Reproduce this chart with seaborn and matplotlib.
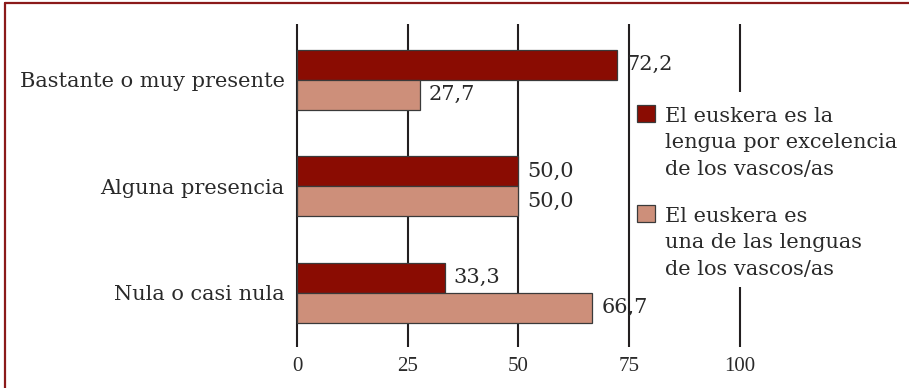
import matplotlib
matplotlib.use("Agg")
import matplotlib.pyplot as plt
from matplotlib.lines import Line2D
from matplotlib.patches import Rectangle
import seaborn as sns
import pandas as pd

categories = ["Bastante o muy presente", "Alguna presencia", "Nula o casi nula"]
series_names = [
    "El euskera es la\nlengua por excelencia\nde los vascos/as",
    "El euskera es\nuna de las lenguas\nde los vascos/as",
]
excelencia = [72.2, 50.0, 33.3]
una_de = [27.7, 50.0, 66.7]
x_ticks = [0, 25, 50, 75, 100]

dark_red = "#8a0c02"
salmon = "#cd8f7a"
palette = [dark_red, salmon]
grid_col = "#231f20"
text_col = "#2a2a2a"
edge_col = "#3a3a3a"

df = pd.DataFrame({
    "cat": categories * 2,
    "serie": [series_names[0]] * 3 + [series_names[1]] * 3,
    "valor": excelencia + una_de,
})

sns.set_theme(style="white")
plt.rcParams["font.family"] = ["DejaVu Serif"]

W, H = 909, 388
fig = plt.figure(figsize=(W / 100, H / 100), dpi=100)
ax = fig.add_axes([0.3238, 0.1057, 0.4932, 0.8325])

sns.barplot(data=df, y="cat", x="valor", hue="serie", order=categories,
            hue_order=series_names, palette=palette, saturation=1,
            orient="h", width=0.563, gap=0, edgecolor=edge_col,
            linewidth=0.9, ax=ax, zorder=3, legend=False)

ax.set_xlim(-0.6, 100.6)
ax.set_ylim(2.51, -0.523)
ax.set_xticks(x_ticks)
ax.set_xticklabels([str(t) for t in x_ticks], fontsize=15,
                   family="Liberation Serif", color=text_col)
ax.tick_params(axis="x", length=0, pad=7)
ax.tick_params(axis="y", length=0, pad=7, labelsize=15, labelcolor=text_col)
ax.set_xlabel("")
ax.set_ylabel("")
for s in ax.spines.values():
    s.set_visible(False)
for t in x_ticks:
    ax.axvline(t, color=grid_col, lw=1.5, zorder=1)

# value labels just past the end of each bar
for container in ax.containers:
    ax.bar_label(container,
                 labels=[f"{v:.1f}".replace(".", ",") for v in container.datavalues],
                 padding=6.5, fontsize=15, color=text_col, zorder=5)

# legend panel: white box over the right gridlines, square aligned with first line
def fx(px):
    return px / W

def fy(py):
    return 1 - py / H

fig.add_artist(Rectangle((fx(633), fy(287)), fx(905) - fx(633), fy(92) - fy(287),
                         transform=fig.transFigure, facecolor="white",
                         edgecolor="none", zorder=2))
for name, col, top in zip(series_names, palette, [105, 205]):
    fig.add_artist(Rectangle((fx(637), fy(top + 17)), fx(655) - fx(637),
                             fy(top) - fy(top + 17), transform=fig.transFigure,
                             facecolor=col, edgecolor=edge_col, lw=0.9, zorder=3))
    fig.text(fx(665), fy(top + 38), name, ha="left", va="center", fontsize=15,
             color=text_col, linespacing=1.47, zorder=3)

# frame lines along the top and left edges of the figure
fig.add_artist(Line2D([0.006, 1.0], [0.991, 0.991], transform=fig.transFigure,
                      color="#8b1a1a", lw=1.6))
fig.add_artist(Line2D([0.006, 0.006], [0.0, 0.991], transform=fig.transFigure,
                      color="#8b1a1a", lw=1.6))

fig.savefig("out.png", dpi=100, facecolor="white")
